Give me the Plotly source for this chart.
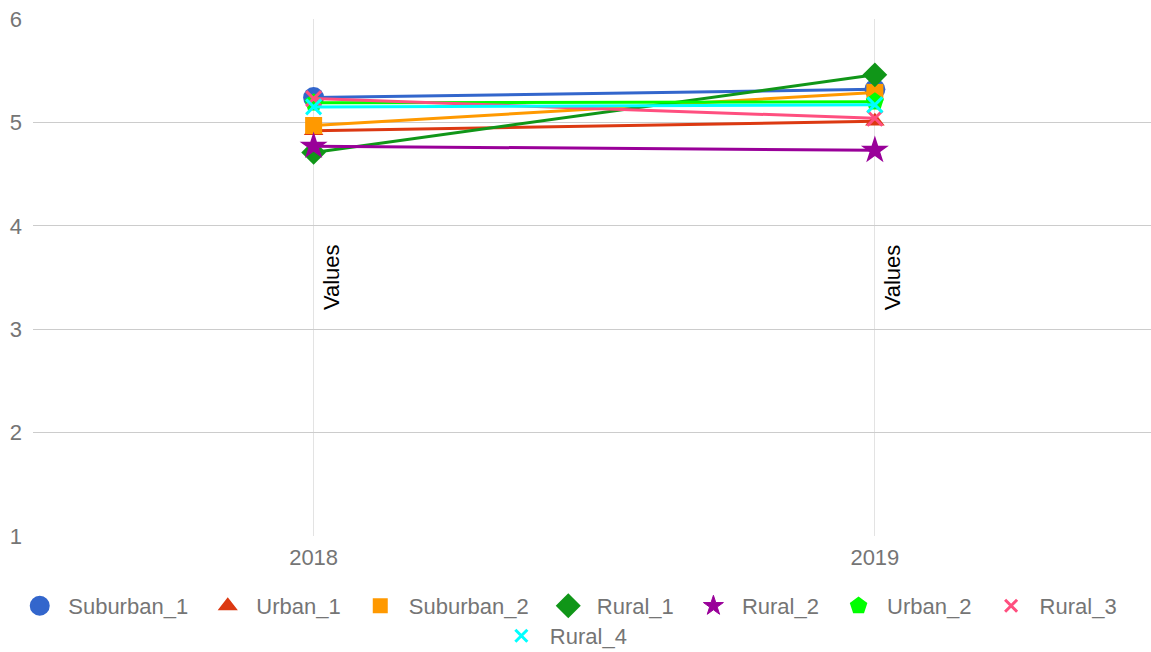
import plotly.graph_objects as go

years = ["2018", "2019"]
series_names = ["Suburban_1", "Urban_1", "Suburban_2", "Rural_1", "Rural_2", "Urban_2", "Rural_3", "Rural_4"]
suburban_1 = [5.24, 5.32]
urban_1 = [4.92, 5.01]
suburban_2 = [4.97, 5.29]
rural_1 = [4.71, 5.46]
rural_2 = [4.77, 4.73]
urban_2 = [5.19, 5.20]
rural_3 = [5.23, 5.04]
rural_4 = [5.15, 5.17]
annotation_texts = ["Values", "Values"]
annotation_y = [3.5, 3.5]

values = [suburban_1, urban_1, suburban_2, rural_1, rural_2, urban_2, rural_3, rural_4]
colors = ["#3366cc", "#dc3912", "#ff9900", "#109618", "#990099", "#00ff00", "#ff4f7f", "#00ffff"]
symbols = ["circle", "triangle-up", "square", "diamond", "star", "pentagon", "x-thin", "x-thin"]
sizes = [21, 17, 17, 19, 21, 19, 15, 15]
legend_sizes = [16, 14, 13, 16, 15, 16, 12, 12]
legend_lw = [4, 2, 2, 3, 1, 2, 3, 3]

FONT = "Liberation Sans, Arial, sans-serif"
GRAY = "#757575"
FS = 22
PAD = "\u00a0"

fig = go.Figure()
for i, (name, vals) in enumerate(zip(series_names, values)):
    marker = dict(symbol=symbols[i], size=sizes[i], color=colors[i])
    if symbols[i].startswith("x-thin"):
        marker["line"] = dict(color=colors[i], width=3)
    fig.add_trace(go.Scatter(
        x=years, y=vals, name=name, mode="lines+markers",
        line=dict(color=colors[i], width=3),
        marker=marker, showlegend=False,
    ))

# legend-only entries (markers without lines, like the reference legend)
for i, name in enumerate(series_names):
    lm = dict(symbol=symbols[i], size=legend_sizes[i], color=colors[i],
              line=dict(color=colors[i], width=legend_lw[i]))
    is_last = name == "Rural_4"
    fig.add_trace(go.Scatter(
        x=[None], y=[None], name=name if is_last else name + PAD, mode="markers", marker=lm,
        legend="legend2" if is_last else "legend", hoverinfo="skip",
    ))

for i, (txt, yv) in enumerate(zip(annotation_texts, annotation_y)):
    fig.add_annotation(x=i, y=yv, xref="x", yref="y", text=txt, textangle=-90, showarrow=False,
                       xshift=18, font=dict(family=FONT, size=FS, color="#000000"))

legend_common = dict(orientation="h", xref="container", yref="container", xanchor="center",
                     yanchor="middle", font=dict(family=FONT, size=FS, color=GRAY),
                     bgcolor="rgba(0,0,0,0)", itemwidth=47)

fig.update_layout(
    width=1151, height=652,
    margin=dict(l=33, r=0, t=19, b=116),
    paper_bgcolor="white", plot_bgcolor="white",
    font=dict(family=FONT, size=FS, color=GRAY),
    xaxis=dict(type="category", range=[-0.5, 1.492], showgrid=True, gridcolor="#e3e3e3",
               gridwidth=1, zeroline=False, showline=False, ticks="", ticklabelstandoff=6,
               tickfont=dict(family=FONT, size=FS, color=GRAY)),
    yaxis=dict(range=[1, 6], dtick=1, showgrid=True, gridcolor="#cccccc", gridwidth=1,
               zeroline=False, showline=False, ticks="", ticklabelstandoff=10,
               tickfont=dict(family=FONT, size=FS, color=GRAY)),
    legend=dict(legend_common, x=0.495, y=1 - 606 / 652),
    legend2=dict(legend_common, x=0.489, y=1 - 636 / 652),
    showlegend=True,
)

fig.write_html("out.html", config={"displayModeBar": False},
               post_script="document.body.style.margin='0';document.body.style.overflow='hidden';")
